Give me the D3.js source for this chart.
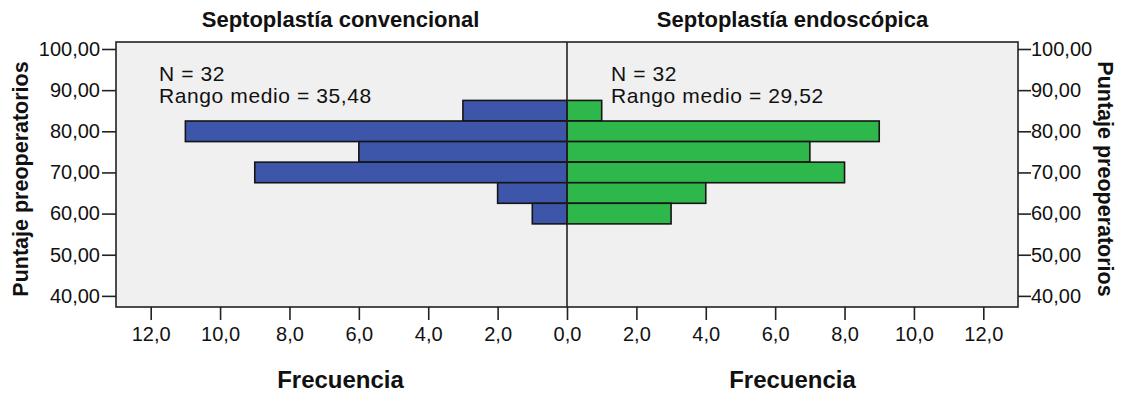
<!DOCTYPE html>
<html>
<head>
<meta charset="utf-8">
<script src="https://cdn.jsdelivr.net/npm/d3@7"></script>
<style>
  body { margin: 0; background: #fff; }
  text { font-family: Arial, "Liberation Sans", sans-serif; fill: #111; }
</style>
</head>
<body>
<svg id="chart" width="1123" height="399"></svg>
<script>
// bins of "Puntaje preoperatorios" (center of each 5-point bin)
const binCenters = [85, 80, 75, 70, 65, 60]
const convencional = [3, 11, 6, 9, 2, 1]
const endoscopica = [1, 9, 7, 8, 4, 3]
const groupTitles = ['Septoplastía convencional', 'Septoplastía endoscópica']
const groupStats = [
  ['N = 32', 'Rango medio = 35,48'],
  ['N = 32', 'Rango medio = 29,52']
]
const yTicks = [40, 50, 60, 70, 80, 90, 100]
const xTicks = [0, 2, 4, 6, 8, 10, 12]
const binWidth = 5

const svg = d3.select('#chart')
const frame = {left: 116, right: 1018, top: 42, bottom: 307}
const mid = 567

const y = d3.scaleLinear().domain([37.3, 101.7]).range([frame.bottom, frame.top])
const xLeft = d3.scaleLinear().domain([0, 13]).range([mid, frame.left])
const xRight = d3.scaleLinear().domain([0, 13]).range([mid, frame.right])

const fmtComma = (digits) => (d) => d.toFixed(digits).replace('.', ',')

// plot background
svg.append('rect')
  .attr('x', frame.left).attr('y', frame.top)
  .attr('width', frame.right - frame.left).attr('height', frame.bottom - frame.top)
  .attr('fill', '#f0f0f0')

function drawBars (values, xs, color) {
  svg.append('g').selectAll('rect')
    .data(values.map((v, i) => ({v, c: binCenters[i]})))
    .join('rect')
      .attr('x', d => Math.min(xs(0), xs(d.v)))
      .attr('y', d => y(d.c + binWidth / 2))
      .attr('width', d => Math.abs(xs(d.v) - xs(0)))
      .attr('height', d => y(d.c - binWidth / 2) - y(d.c + binWidth / 2))
      .attr('fill', color)
      .attr('stroke', '#151515')
      .attr('stroke-width', 1.6)
}
drawBars(convencional, xLeft, '#3e56a9')
drawBars(endoscopica, xRight, '#2eb84b')

// frame + center line
svg.append('rect')
  .attr('x', frame.left).attr('y', frame.top)
  .attr('width', frame.right - frame.left).attr('height', frame.bottom - frame.top)
  .attr('fill', 'none').attr('stroke', '#222').attr('stroke-width', 1.6)
svg.append('line')
  .attr('x1', mid).attr('x2', mid).attr('y1', frame.top).attr('y2', frame.bottom)
  .attr('stroke', '#222').attr('stroke-width', 1.6)

function styleAxis (g, fontSize) {
  g.select('.domain').remove()
  g.selectAll('.tick line').attr('stroke', '#222').attr('stroke-width', 1.6)
  g.selectAll('.tick text')
    .style('font-family', 'Arial, "Liberation Sans", sans-serif')
    .style('font-size', fontSize + 'px').attr('fill', '#222')
}

// y axes
svg.append('g').attr('transform', `translate(${frame.left},0)`)
  .call(d3.axisLeft(y).tickValues(yTicks).tickFormat(fmtComma(2)).tickSize(14).tickPadding(2))
  .call(g => styleAxis(g, 20))
svg.append('g').attr('transform', `translate(${frame.right},0)`)
  .call(d3.axisRight(y).tickValues(yTicks).tickFormat(fmtComma(2)).tickSize(13).tickPadding(0))
  .call(g => styleAxis(g, 20))

// x axes
svg.append('g').attr('transform', `translate(0,${frame.bottom})`)
  .call(d3.axisBottom(xLeft).tickValues(xTicks).tickFormat(fmtComma(1)).tickSize(13).tickPadding(7))
  .call(g => styleAxis(g, 20))
svg.append('g').attr('transform', `translate(0,${frame.bottom})`)
  .call(d3.axisBottom(xRight).tickValues(xTicks.slice(1)).tickFormat(fmtComma(1)).tickSize(13).tickPadding(7))
  .call(g => styleAxis(g, 20))

// titles
const centers = [(frame.left + mid) / 2 - 1, (mid + frame.right) / 2]
groupTitles.forEach((t, i) => {
  svg.append('text').attr('x', centers[i]).attr('y', 27)
    .attr('text-anchor', 'middle').attr('font-weight', 'bold').attr('font-size', 22)
    .text(t)
  svg.append('text').attr('x', centers[i]).attr('y', 388)
    .attr('text-anchor', 'middle').attr('font-weight', 'bold').attr('font-size', 24)
    .text('Frecuencia')
})

// group stats, two lines in one text block
const statX = [159, 611]
groupStats.forEach((lines, i) => {
  const t = svg.append('text').attr('x', statX[i]).attr('y', 80.5)
    .attr('font-size', 21).attr('letter-spacing', 0.6).attr('fill', '#222')
  t.selectAll('tspan').data(lines).join('tspan')
    .attr('x', statX[i]).attr('dy', (d, j) => j === 0 ? 0 : 22)
    .text(d => d)
})

// y-axis titles
svg.append('text')
  .attr('transform', 'translate(28,179) rotate(-90)')
  .attr('text-anchor', 'middle').attr('font-weight', 'bold').attr('font-size', 21.5)
  .text('Puntaje preoperatorios')
svg.append('text')
  .attr('transform', 'translate(1098,179) rotate(90)')
  .attr('text-anchor', 'middle').attr('font-weight', 'bold').attr('font-size', 21.5)
  .text('Puntaje preoperatorios')
</script>
</body>
</html>
